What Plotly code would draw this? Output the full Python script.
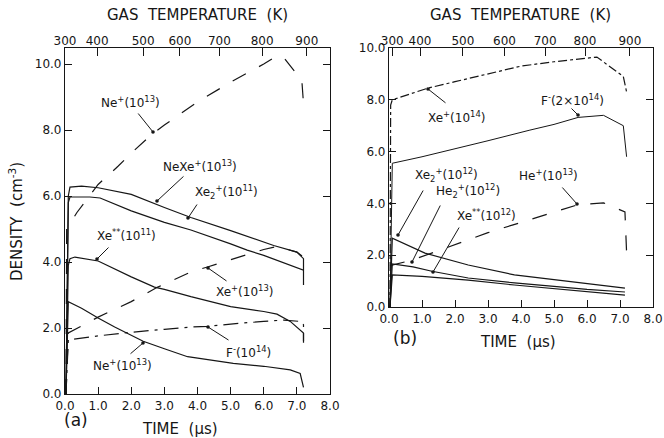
import plotly.graph_objects as go

W, H = 664, 438

# ---------------- DATA : panel (a) ----------------
time_ticks = [0, 1, 2, 3, 4, 5, 6, 7, 8]
temp_labels = ["300", "400", "500", "600", "700", "800", "900"]
temp_pos_a = [0.0, 0.97, 2.36, 3.47, 4.66, 5.95, 7.3]
temp_pos_b = [0.1, 0.94, 2.24, 3.5, 4.73, 5.94, 7.3]

a_t_nep_d = [0.03, 0.05, 0.36, 1.0, 1.6, 2.0, 2.66, 3.0, 4.0, 5.0, 6.0, 6.4, 6.6, 7.0, 7.15, 7.2]
a_nep_d = [0.0, 5.0, 5.5, 6.35, 6.9, 7.3, 7.9, 8.15, 8.85, 9.45, 10.0, 10.25, 10.2, 9.7, 9.5, 8.8]

a_t_nexe = [0.03, 0.1, 0.15, 0.5, 1.0, 2.0, 3.0, 3.8, 5.0, 6.0, 6.3, 7.0, 7.2, 7.2]
a_nexe = [0.0, 6.0, 6.27, 6.3, 6.25, 6.05, 5.65, 5.35, 4.95, 4.62, 4.5, 4.3, 4.1, 3.75]

a_t_xe2 = [0.03, 0.1, 0.15, 0.75, 1.06, 2.0, 3.0, 3.8, 5.0, 5.5, 6.0, 7.0, 7.2, 7.2]
a_xe2 = [0.0, 5.8, 5.97, 5.97, 5.94, 5.55, 5.2, 4.97, 4.55, 4.36, 4.2, 3.82, 3.75, 3.3]

a_t_xess = [0.03, 0.1, 0.15, 0.3, 1.0, 2.0, 2.7, 3.0, 3.8, 5.0, 6.0, 6.4, 6.8, 7.2, 7.2]
a_xess = [0.0, 3.9, 4.1, 4.15, 4.03, 3.55, 3.24, 3.17, 2.95, 2.65, 2.5, 2.42, 2.2, 1.85, 1.6]

a_t_xep = [0.03, 0.1, 1.0, 2.0, 2.8, 3.8, 4.3, 5.0, 6.0, 6.4, 7.0, 7.2, 7.2]
a_xep = [0.0, 1.85, 2.33, 2.8, 3.24, 3.7, 3.85, 4.07, 4.38, 4.47, 4.3, 4.15, 3.9]

a_t_nep = [0.03, 0.1, 0.5, 1.0, 1.5, 1.87, 2.36, 3.0, 3.7, 5.08, 6.0, 6.8, 7.1, 7.2]
a_nep = [0.0, 2.8, 2.6, 2.3, 2.03, 1.85, 1.6, 1.37, 1.13, 0.93, 0.84, 0.73, 0.62, 0.2]

a_t_fm = [0.03, 0.1, 1.0, 1.87, 3.0, 3.8, 4.32, 5.0, 6.0, 6.6, 7.1, 7.2, 7.2]
a_fm = [0.0, 1.64, 1.76, 1.86, 1.96, 2.03, 2.05, 2.12, 2.2, 2.24, 2.2, 2.1, 1.55]

# ---------------- DATA : panel (b) ----------------
b_t_xep = [0.03, 0.05, 0.1, 1.18, 2.0, 3.45, 4.0, 5.0, 5.88, 6.3, 7.1, 7.2]
b_xep = [0.0, 7.8, 8.0, 8.45, 8.7, 9.15, 9.3, 9.47, 9.6, 9.65, 8.9, 8.3]

b_t_fm = [0.03, 0.1, 1.0, 2.0, 3.0, 4.27, 5.0, 5.73, 6.5, 7.1, 7.2]
b_fm = [0.0, 5.55, 5.8, 6.1, 6.42, 6.83, 7.05, 7.32, 7.4, 7.0, 5.8]

b_t_hep = [0.03, 0.7, 1.55, 2.0, 3.0, 3.76, 5.0, 5.7, 6.5, 7.15, 7.2]
b_hep = [1.6, 1.81, 2.2, 2.4, 2.87, 3.17, 3.67, 3.94, 4.02, 3.67, 2.1]

b_t_xe2 = [0.03, 0.1, 1.09, 2.4, 3.8, 5.0, 6.0, 7.15]
b_xe2 = [0.0, 2.66, 2.08, 1.62, 1.24, 1.05, 0.9, 0.73]

b_t_he2 = [0.03, 0.1, 0.73, 1.3, 2.4, 3.8, 5.0, 6.0, 7.15]
b_he2 = [0.0, 1.66, 1.55, 1.38, 1.12, 0.93, 0.8, 0.68, 0.58]

b_t_xess = [0.03, 0.1, 1.0, 2.4, 3.8, 5.0, 6.0, 7.15]
b_xess = [0.0, 1.24, 1.18, 1.04, 0.85, 0.7, 0.58, 0.46]

# ---------------- FIGURE ----------------
FONT = "DejaVu Sans"
INK = "#161616"

def px(x, y):
    return x / W, 1 - y / H

fig = go.Figure()

def line(t, v, dash, xa, ya, w=1.2):
    fig.add_trace(go.Scatter(x=t, y=v, mode="lines", xaxis=xa, yaxis=ya,
                             line=dict(color=INK, width=w, dash=dash),
                             showlegend=False, hoverinfo="skip"))

line(a_t_nep_d, a_nep_d, "longdash", "x", "y")
line(a_t_nexe, a_nexe, "solid", "x", "y")
line(a_t_xe2, a_xe2, "solid", "x", "y")
line(a_t_xess, a_xess, "solid", "x", "y")
line(a_t_xep, a_xep, "longdash", "x", "y")
line(a_t_nep, a_nep, "solid", "x", "y")
line(a_t_fm, a_fm, "longdashdot", "x", "y")

line(b_t_xep, b_xep, "dashdot", "x3", "y2")
line(b_t_fm, b_fm, "solid", "x3", "y2", 1.0)
line(b_t_hep, b_hep, "longdash", "x3", "y2")
line(b_t_xe2, b_xe2, "solid", "x3", "y2")
line(b_t_he2, b_he2, "solid", "x3", "y2")
line(b_t_xess, b_xess, "solid", "x3", "y2")

# dummy traces so the top temperature axes render
fig.add_trace(go.Scatter(x=temp_pos_a, y=[None] * len(temp_pos_a), xaxis="x2", yaxis="y",
                         mode="lines", showlegend=False, hoverinfo="skip"))
fig.add_trace(go.Scatter(x=temp_pos_b, y=[None] * len(temp_pos_b), xaxis="x4", yaxis="y2",
                         mode="lines", showlegend=False, hoverinfo="skip"))

tickfont = dict(family=FONT, size=12, color=INK)

def xbottom(dom, anchor):
    return dict(domain=dom, anchor=anchor, range=[0, 8], tickvals=time_ticks,
                tickformat=".1f", ticks="inside", ticklen=7, tickcolor=INK,
                showline=True, linecolor=INK, linewidth=1.2, mirror=True,
                showgrid=False, zeroline=False, tickfont=tickfont, automargin=False)

def xtop(overl, anchor, pos):
    return dict(overlaying=overl, anchor=anchor, side="top", range=[0, 8],
                tickvals=pos, ticktext=temp_labels, ticks="inside", ticklen=8,
                tickcolor=INK, showline=False, showgrid=False, zeroline=False,
                tickfont=tickfont, automargin=False)

def yax(dom, anchor, rng):
    return dict(domain=dom, anchor=anchor, range=rng, tickvals=[0, 2, 4, 6, 8, 10],
                tickformat=".1f", ticks="inside", ticklen=7, tickcolor=INK,
                showline=True, linecolor=INK, linewidth=1.2, mirror="ticks",
                showgrid=False, zeroline=False, tickfont=tickfont, automargin=False)

fig.update_layout(
    width=W, height=H, margin=dict(l=0, r=0, t=0, b=0, pad=0),
    paper_bgcolor="white", plot_bgcolor="white",
    xaxis=xbottom([65 / W, 330 / W], "y"),
    xaxis2=xtop("x", "y", temp_pos_a),
    xaxis3=xbottom([389 / W, 653 / W], "y2"),
    xaxis4=xtop("x3", "y2", temp_pos_b),
    yaxis=yax([(H - 394) / H, (H - 48) / H], "x", [0, (394 - 48) / 33.0]),
    yaxis2=yax([(H - 307) / H, (H - 48) / H], "x3", [0, 10]),
)

ann = []

def text(s, x, y, size=12, angle=0):
    X, Y = px(x, y)
    ann.append(dict(text=s, x=X, y=Y, xref="paper", yref="paper", showarrow=False,
                    xanchor="center", yanchor="middle", textangle=angle,
                    font=dict(family=FONT, size=size, color=INK)))

def arrow(tail, tip):
    X, Y = px(*tip)
    ann.append(dict(text="", x=X, y=Y, xref="paper", yref="paper", showarrow=True,
                    ax=tail[0] - tip[0], ay=tail[1] - tip[1], arrowhead=6,
                    arrowsize=0.9, arrowwidth=1.0, arrowcolor=INK))

text("GAS  TEMPERATURE  (K)", 197, 15, 15)
text("GAS  TEMPERATURE  (K)", 520, 15, 15)
text("DENSITY  (cm<sup>-3</sup>)", 16, 222, 15, -90)
text("TIME  (\u03bcs)", 180, 429, 15)
text("TIME  (\u03bcs)", 518, 342, 15)
text("(a)", 76, 420, 17)
text("(b)", 405, 338, 17)

# panel (a) labels
text("Ne<sup>+</sup>(10<sup>13</sup>)", 130, 102)
arrow((137, 112), (153, 132))
text("NeXe<sup>+</sup>(10<sup>13</sup>)", 200, 166)
arrow((185, 175), (157, 201))
text("Xe<sub>2</sub><sup>+</sup>(10<sup>11</sup>)", 226, 192)
arrow((198, 203), (188, 218))
text("Xe<sup>**</sup>(10<sup>11</sup>)", 126, 235)
arrow((110, 246), (97, 259))
text("Xe<sup>+</sup>(10<sup>13</sup>)", 244, 291)
arrow((228, 282), (208, 268))
text("F<sup>-</sup>(10<sup>14</sup>)", 248, 352)
arrow((230, 341), (208, 327))
text("Ne<sup>+</sup>(10<sup>13</sup>)", 122, 365)
arrow((129, 355), (143, 343))

# panel (b) labels
text("Xe<sup>+</sup>(10<sup>14</sup>)", 456, 117)
arrow((447, 104), (428, 89))
text("F<sup>-</sup>(2\u00d710<sup>14</sup>)", 572, 100)
arrow((570, 107), (578, 115))
text("Xe<sub>2</sub><sup>+</sup>(10<sup>12</sup>)", 446, 175)
arrow((424, 189), (398, 235))
text("He<sub>2</sub><sup>+</sup>(10<sup>12</sup>)", 468, 191)
arrow((441, 204), (412, 262))
text("Xe<sup>**</sup>(10<sup>12</sup>)", 486, 215)
arrow((460, 226), (433, 272))
text("He<sup>+</sup>(10<sup>13</sup>)", 548, 175)
arrow((561, 186), (577, 204))

fig.update_layout(annotations=ann)

fig.write_html("out.html", config={"displayModeBar": False},
               post_script="document.body.style.margin='0';document.body.style.overflow='hidden';")
